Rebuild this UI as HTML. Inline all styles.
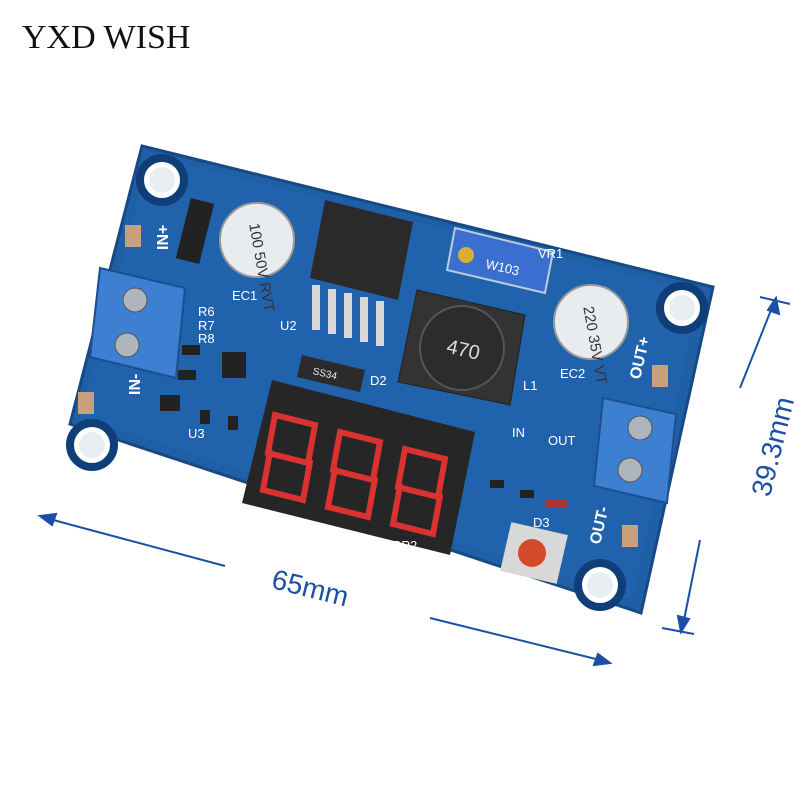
<!DOCTYPE html>
<html><head><meta charset="utf-8"><style>
html,body{margin:0;padding:0;background:#fff;}
svg{display:block}
text{font-family:"Liberation Sans",sans-serif;}
</style></head><body>
<svg width="800" height="800" viewBox="0 0 800 800" xmlns="http://www.w3.org/2000/svg">
<rect width="800" height="800" fill="#fff"/>
<text x="22" y="48" font-family="Liberation Serif" font-size="34" fill="#111" style="font-family:'Liberation Serif',serif">YXD WISH</text>

<!-- board -->
<polygon points="142,146 713,287 641,613 70,424" fill="#1f5fa6" stroke="#174a85" stroke-width="3"/>
<polygon points="150,156 700,292 632,600 80,416" fill="#2266b0" opacity="0.6"/>

<!-- mounting holes -->
<g fill="#fff" stroke="#0f3e78" stroke-width="8">
<circle cx="162" cy="180" r="22"/><circle cx="682" cy="308" r="22"/>
<circle cx="600" cy="585" r="22"/><circle cx="92" cy="445" r="22"/>
</g>
<g fill="#e9eef2"><circle cx="162" cy="180" r="13"/><circle cx="682" cy="308" r="13"/><circle cx="600" cy="585" r="13"/><circle cx="92" cy="445" r="13"/></g>

<!-- pads -->
<g fill="#c9a07a"><rect x="125" y="225" width="16" height="22"/><rect x="78" y="392" width="16" height="22"/><rect x="652" y="365" width="16" height="22"/><rect x="622" y="525" width="16" height="22"/></g>

<!-- left terminal -->
<polygon points="100,268 185,288 176,378 90,357" fill="#3d7fd0" stroke="#1d4f90" stroke-width="2"/>
<circle cx="135" cy="300" r="12" fill="#aeb5bd" stroke="#555"/><circle cx="127" cy="345" r="12" fill="#aeb5bd" stroke="#555"/>
<!-- right terminal -->
<polygon points="603,398 676,414 667,503 594,486" fill="#3d7fd0" stroke="#1d4f90" stroke-width="2"/>
<circle cx="640" cy="428" r="12" fill="#aeb5bd" stroke="#555"/><circle cx="630" cy="470" r="12" fill="#aeb5bd" stroke="#555"/>

<!-- capacitors -->
<circle cx="257" cy="240" r="37" fill="#e8ecef" stroke="#999" stroke-width="2"/>
<circle cx="591" cy="322" r="37" fill="#e8ecef" stroke="#999" stroke-width="2"/>
<text x="240" y="245" font-size="15" fill="#333" transform="rotate(80 257 240)">100 50V RVT</text>
<text x="575" y="327" font-size="15" fill="#333" transform="rotate(80 591 322)">220 35V VT</text>

<!-- diode D1 -->
<rect x="183" y="200" width="24" height="62" fill="#222" transform="rotate(14 195 231)"/>

<!-- U2 IC -->
<polygon points="325,200 413,222 398,300 310,278" fill="#2a2a2a"/>
<g fill="#d8d8d8"><rect x="312" y="285" width="8" height="45"/><rect x="328" y="289" width="8" height="45"/><rect x="344" y="293" width="8" height="45"/><rect x="360" y="297" width="8" height="45"/><rect x="376" y="301" width="8" height="45"/></g>

<!-- pot -->
<polygon points="455,228 553,252 545,293 447,270" fill="#3a6fd0" stroke="#bcd" stroke-width="2"/>
<circle cx="466" cy="255" r="8" fill="#d9b033"/>
<text x="485" y="268" font-size="13" fill="#fff" transform="rotate(13 485 268)">W103</text>

<!-- inductor -->
<polygon points="417,290 525,315 510,405 398,382" fill="#333" stroke="#222"/>
<circle cx="462" cy="348" r="42" fill="#2c2c2c" stroke="#555" stroke-width="2"/>
<text x="447" y="356" font-size="20" fill="#ddd" transform="rotate(13 462 348)">470</text>

<!-- SS34 diode -->
<polygon points="302,355 365,370 360,392 297,377" fill="#2b2b2b"/>
<text x="313" y="378" font-size="10" fill="#eee" transform="rotate(13 330 373)">SS34</text>

<!-- display -->
<polygon points="272,380 475,432 450,555 242,503" fill="#262626"/>
<g fill="none" stroke="#e33" stroke-width="6" stroke-linecap="round" opacity="0.9">
<path d="M275,415 l40,10 l-7,38 l-40,-10 z M270,452 l-7,38 l40,10 l7,-38"/>
<path d="M340,432 l40,10 l-7,38 l-40,-10 z M335,469 l-7,38 l40,10 l7,-38"/>
<path d="M405,449 l40,10 l-7,38 l-40,-10 z M400,486 l-7,38 l40,10 l7,-38"/>
</g>

<!-- button -->
<rect x="505" y="528" width="58" height="50" fill="#d8d8d8" transform="rotate(13 534 553)"/>
<circle cx="532" cy="553" r="14" fill="#d44a2a"/>

<!-- small parts -->
<g fill="#222">
<rect x="182" y="345" width="18" height="10"/><rect x="178" y="370" width="18" height="10"/>
<rect x="222" y="352" width="24" height="26"/><rect x="160" y="395" width="20" height="16"/>
<rect x="200" y="410" width="10" height="14"/><rect x="228" y="416" width="10" height="14"/>
<rect x="490" y="480" width="14" height="8"/><rect x="520" y="490" width="14" height="8"/>
<rect x="545" y="500" width="22" height="8" fill="#a33"/>
</g>

<!-- labels -->
<g fill="#fff" font-size="13">
<text x="168" y="250" transform="rotate(-90 168 250)" font-size="16" font-weight="bold">IN+</text>
<text x="140" y="395" transform="rotate(-90 140 395)" font-size="16" font-weight="bold">IN-</text>
<text x="640" y="380" transform="rotate(-77 640 380)" font-size="16" font-weight="bold">OUT+</text>
<text x="600" y="545" transform="rotate(-77 600 545)" font-size="16" font-weight="bold">OUT-</text>
<text x="232" y="300">EC1</text><text x="280" y="330">U2</text><text x="370" y="385">D2</text>
<text x="523" y="390">L1</text><text x="560" y="378">EC2</text><text x="188" y="438">U3</text>
<text x="538" y="258">VR1</text><text x="512" y="437">IN</text><text x="548" y="445">OUT</text>
<text x="533" y="527">D3</text><text x="392" y="550">RP2</text>
<text x="198" y="316">R6</text><text x="198" y="330">R7</text><text x="198" y="343">R8</text>
</g>

<!-- dimension lines -->
<g stroke="#1c4fa6" stroke-width="2" fill="#1c4fa6">
<line x1="42" y1="517" x2="225" y2="566"/>
<line x1="430" y1="618" x2="608" y2="662"/>
<polygon points="40,516 56,514 52,525"/>
<polygon points="610,663 594,665 598,654"/>
<line x1="775" y1="300" x2="740" y2="388"/>
<line x1="700" y1="540" x2="682" y2="630"/>
<line x1="760" y1="297" x2="790" y2="304"/>
<line x1="662" y1="628" x2="694" y2="634"/>
<polygon points="776,298 779,314 768,310"/>
<polygon points="681,632 678,616 689,619"/>
</g>
<text x="270" y="600" font-size="28" fill="#1c4fa6" transform="rotate(14 320 595)">65mm</text>
<text x="705" y="525" font-size="28" fill="#1c4fa6" transform="rotate(-76 720 470)">39.3mm</text>
</svg>
</body></html>
